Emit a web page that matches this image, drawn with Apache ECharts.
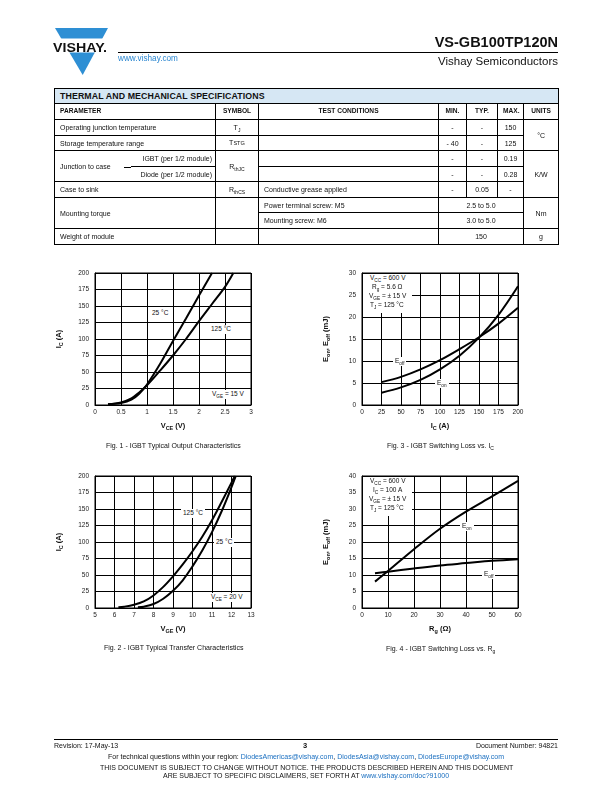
<!DOCTYPE html>
<html><head><meta charset="utf-8">
<script src="https://cdn.jsdelivr.net/npm/echarts@6/dist/echarts.min.js"></script>
<style>
body{margin:0;background:#fff;}
#page{position:relative;width:612px;height:792px;overflow:hidden;font-family:"Liberation Sans",Arial,Helvetica,sans-serif;color:#111;background:#fff;}
#chart{position:absolute;left:0;top:0;width:612px;height:792px;}
.t{position:absolute;white-space:nowrap;line-height:1;z-index:5;color:#111;}
.lbl{background:#fff;padding:1px 2px;}
sub,.sb{font-size:72%;vertical-align:-1.5px;line-height:0;}
#spec{position:absolute;left:54px;top:88px;border-collapse:collapse;table-layout:fixed;width:504px;font-size:7px;z-index:5;}
#spec td{border:1px solid #000;padding:0 5px;line-height:1;white-space:nowrap;overflow:hidden;}
#spec td.c{text-align:center;}
#spec tr.h td{font-weight:bold;font-size:6.6px;text-align:center;}
#spec td.ttl{background:#d6e7f4;font-weight:900;font-size:8.8px;letter-spacing:0.1px;}
a{color:#1a6fc0;}
.box{position:absolute;background:#fff;z-index:4;}
</style></head>
<body><div id="page">
<div id="chart"></div>

<svg class="t" style="left:50px;top:25px" width="66" height="55">
  <polygon points="5,3 58,3 32.7,50" fill="#2e8fd4"/>
  <rect x="0" y="13.5" width="66" height="14" fill="#fff"/>
  <text x="3" y="26.5" font-family="Liberation Sans, Arial" font-weight="bold" font-size="13.5" textLength="54" lengthAdjust="spacingAndGlyphs" fill="#111">VISHAY.</text>
</svg>
<div class="t" style="right:54px;top:35px;font-size:14.5px;font-weight:bold;">VS-GB100TP120N</div>
<div class="t" style="left:118px;top:52px;width:440px;height:1px;background:#000;"></div>
<div class="t" style="left:118px;top:55px;font-size:8.2px;color:#2a86d0;">www.vishay.com</div>
<div class="t" style="right:54px;top:56px;font-size:11.5px;">Vishay Semiconductors</div>

<table id="spec">
<colgroup><col style="width:76px"><col style="width:85px"><col style="width:43px"><col style="width:180px"><col style="width:28px"><col style="width:31px"><col style="width:26px"><col style="width:35px"></colgroup>
<tr style="height:15px"><td colspan="8" class="ttl">THERMAL AND MECHANICAL SPECIFICATIONS</td></tr>
<tr class="h" style="height:16px"><td colspan="2" style="text-align:left">PARAMETER</td><td>SYMBOL</td><td>TEST CONDITIONS</td><td>MIN.</td><td>TYP.</td><td>MAX.</td><td>UNITS</td></tr>
<tr style="height:16px"><td colspan="2">Operating junction temperature</td><td class="c">T<sub>J</sub></td><td></td><td class="c">-</td><td class="c">-</td><td class="c">150</td><td class="c" rowspan="2">°C</td></tr>
<tr style="height:15px"><td colspan="2">Storage temperature range</td><td class="c">T<span style="font-size:80%">STG</span></td><td></td><td class="c">- 40</td><td class="c">-</td><td class="c">125</td></tr>
<tr style="height:16px"><td rowspan="2" style="border-right:none">Junction to case</td><td style="border-left:none;text-align:right;padding-right:3px">IGBT (per 1/2 module)</td><td class="c" rowspan="2">R<sub>thJC</sub></td><td></td><td class="c">-</td><td class="c">-</td><td class="c">0.19</td><td class="c" rowspan="3">K/W</td></tr>
<tr style="height:15px"><td style="border-left:none;text-align:right;padding-right:3px">Diode (per 1/2 module)</td><td></td><td class="c">-</td><td class="c">-</td><td class="c">0.28</td></tr>
<tr style="height:16px"><td colspan="2">Case to sink</td><td class="c">R<sub>thCS</sub></td><td>Conductive grease applied</td><td class="c">-</td><td class="c">0.05</td><td class="c">-</td></tr>
<tr style="height:15px"><td colspan="2" rowspan="2">Mounting torque</td><td rowspan="2"></td><td>Power terminal screw: M5</td><td class="c" colspan="3">2.5 to 5.0</td><td class="c" rowspan="2">Nm</td></tr>
<tr style="height:16px"><td>Mounting screw: M6</td><td class="c" colspan="3">3.0 to 5.0</td></tr>
<tr style="height:16px"><td colspan="2">Weight of module</td><td></td><td></td><td class="c" colspan="3">150</td><td class="c">g</td></tr>
</table>
<div class="t" style="left:124px;top:167px;width:7px;height:1px;background:#000;z-index:6"></div>

<!-- footer -->
<div class="t" style="left:54px;top:739px;width:504px;height:1px;background:#000;"></div>
<div class="t" style="left:54px;top:742px;font-size:7px;">Revision: 17-May-13</div>
<div class="t" id="pgno" style="left:303px;top:742px;font-size:7.5px;font-weight:bold;">3</div>
<div class="t" style="right:54px;top:742px;font-size:7px;">Document Number: 94821</div>
<div class="t ctr" data-y="756" style="font-size:7px;">For technical questions within your region: <a>DiodesAmericas@vishay.com</a>, <a>DiodesAsia@vishay.com</a>, <a>DiodesEurope@vishay.com</a></div>
<div class="t ctr" data-y="767" style="font-size:7px;">THIS DOCUMENT IS SUBJECT TO CHANGE WITHOUT NOTICE. THE PRODUCTS DESCRIBED HEREIN AND THIS DOCUMENT</div>
<div class="t ctr" data-y="775" style="font-size:7px;">ARE SUBJECT TO SPECIFIC DISCLAIMERS, SET FORTH AT <a>www.vishay.com/doc?91000</a></div>
</div>

<script>
// ---- Fig. 1: IGBT typical output characteristics (VGE = 15 V)
const fig1Vce25 = [0.25, 0.5, 0.7, 0.85, 1.0, 1.25, 1.5, 1.75, 2.0, 2.25];
const fig1Ic25 = [1, 3, 8, 17, 31, 62, 97, 131, 166, 200];
const fig1Vce125 = [0.25, 0.5, 0.7, 0.85, 1.0, 1.25, 1.5, 1.75, 2.0, 2.25, 2.5, 2.66];
const fig1Ic125 = [1, 4, 10, 19, 30, 52, 75, 100, 127, 153, 179, 200];
// ---- Fig. 2: IGBT typical transfer characteristics (VCE = 20 V)
const fig2Vge125 = [6.2, 6.5, 7, 7.5, 8, 8.5, 9, 9.5, 10, 10.5, 11, 11.5, 12, 12.17];
const fig2Ic125 = [1, 2, 5, 10, 19, 32, 48, 66, 86, 108, 133, 161, 190, 200];
const fig2Vge25 = [7.2, 7.5, 8, 8.5, 9, 9.5, 10, 10.5, 11, 11.5, 12, 12.22];
const fig2Ic25 = [1, 2, 6, 14, 26, 42, 63, 87, 115, 147, 183, 200];
// ---- Fig. 3: switching loss vs IC
const fig3Ic = [25, 50, 75, 100, 125, 150, 175, 200];
const fig3Eoff = [5.2, 6.4, 8.1, 10.2, 12.7, 15.4, 18.5, 22.1];
const fig3Eon = [2.8, 4.0, 5.7, 8.1, 11.2, 15.3, 20.5, 27.0];
// ---- Fig. 4: switching loss vs Rg
const fig4Rg = [5, 10, 20, 30, 40, 50, 60];
const fig4Eon = [8.0, 11.2, 17.8, 24.0, 29.2, 33.8, 38.5];
const fig4Eoff = [10.5, 11.0, 12.0, 12.9, 13.6, 14.3, 14.8];

const FONT = '"Liberation Sans", Arial, Helvetica, sans-serif';
const pair = (xs, ys) => xs.map((x, i) => [x, ys[i]]);

const grids = [
  {left: 95, top: 273, width: 156, height: 132},
  {left: 362, top: 273, width: 156, height: 132},
  {left: 95, top: 476, width: 156, height: 132},
  {left: 362, top: 476, width: 156, height: 132}
].map(g => Object.assign(g, {show: true, borderColor: '#000', borderWidth: 1, containLabel: false, outerBoundsMode: 'none'}));

const nameStyle = {
  fontFamily: FONT, fontSize: 7.5, fontWeight: 'bold', color: '#111', lineHeight: 11,
  rich: {s: {fontFamily: FONT, fontSize: 5.5, fontWeight: 'bold', color: '#111', lineHeight: 11, verticalAlign: 'bottom'}}
};
function xAx(gi, min, max, interval, name) {
  return {type: 'value', gridIndex: gi, min, max, interval, name, nameLocation: 'middle', nameGap: 15,
    nameMoveOverlap: false, nameTextStyle: nameStyle,
    axisLine: {show: true, lineStyle: {color: '#000', width: 1}}, axisTick: {show: false},
    axisLabel: {fontFamily: FONT, fontSize: 6.5, color: '#222', margin: 4, showMinLabel: true, showMaxLabel: true},
    splitLine: {show: true, lineStyle: {color: '#000', width: 1}}};
}
function yAx(gi, min, max, interval, name) {
  return {type: 'value', gridIndex: gi, min, max, interval, name, nameLocation: 'middle', nameGap: 31, nameRotate: 90,
    nameMoveOverlap: false, nameTextStyle: nameStyle,
    axisLine: {show: true, lineStyle: {color: '#000', width: 1}}, axisTick: {show: false},
    axisLabel: {fontFamily: FONT, fontSize: 6.5, color: '#222', margin: 6, showMinLabel: true, showMaxLabel: true},
    splitLine: {show: true, lineStyle: {color: '#000', width: 1}}};
}
function curve(gi, xs, ys) {
  return {type: 'line', xAxisIndex: gi, yAxisIndex: gi, data: pair(xs, ys), smooth: 0.35, symbol: 'none',
    lineStyle: {color: '#000', width: 2}, silent: true, animation: false, z: 3};
}

const chart = echarts.init(document.getElementById('chart'), null, {renderer: 'canvas'});
chart.setOption({
  animation: false,
  backgroundColor: 'transparent',
  grid: grids,
  xAxis: [
    xAx(0, 0, 3, 0.5, 'V{s|CE} (V)'),
    xAx(1, 0, 200, 25, 'I{s|C} (A)'),
    xAx(2, 5, 13, 1, 'V{s|GE} (V)'),
    xAx(3, 0, 60, 10, 'R{s|g} (Ω)')
  ],
  yAxis: [
    yAx(0, 0, 200, 25, 'I{s|C} (A)'),
    yAx(1, 0, 30, 5, 'E{s|on}, E{s|off} (mJ)'),
    yAx(2, 0, 200, 25, 'I{s|C} (A)'),
    yAx(3, 0, 40, 5, 'E{s|on}, E{s|off} (mJ)')
  ],
  series: [
    curve(0, fig1Vce25, fig1Ic25),
    curve(0, fig1Vce125, fig1Ic125),
    curve(1, fig3Ic, fig3Eoff),
    curve(1, fig3Ic, fig3Eon),
    curve(2, fig2Vge125, fig2Ic125),
    curve(2, fig2Vge25, fig2Ic25),
    curve(3, fig4Rg, fig4Eon),
    curve(3, fig4Rg, fig4Eoff)
  ]
});

// ---- text annotations (curve labels, condition boxes, captions)
const page = document.getElementById('page');
function put(html, x, y, size, cls) {
  const d = document.createElement('div');
  d.className = 't ' + (cls || '');
  d.innerHTML = html;
  d.style.fontSize = size + 'px';
  page.appendChild(d);
  d.style.left = Math.round(x - d.offsetWidth / 2) + 'px';
  d.style.top = Math.round(y - d.offsetHeight / 2) + 'px';
}
function box(x, y, w, h) {
  const d = document.createElement('div');
  d.className = 'box';
  Object.assign(d.style, {left: x + 'px', top: y + 'px', width: w + 'px', height: h + 'px'});
  page.appendChild(d);
}
document.querySelectorAll('.ctr').forEach(d => {
  d.style.left = Math.round(306 - d.offsetWidth / 2) + 'px';
  d.style.top = Math.round(+d.dataset.y - d.offsetHeight / 2) + 'px';
});
// Fig 1
put('25 °C', 160, 313, 6.5, 'lbl');
put('125 °C', 221, 329, 6.5, 'lbl');
put('V<sub>GE</sub> = 15 V', 228, 394, 6.5, 'lbl');
put('Fig. 1 - IGBT Typical Output Characteristics', 173, 445, 7);
// Fig 3
box(363, 274, 49, 39);
put('V<sub>CC</sub> = 600 V', 387, 278.5, 6.5);
put('R<sub>g</sub> = 5.6 Ω', 387, 287, 6.5);
put('V<sub>GE</sub> = ± 15 V', 387, 296, 6.5);
put('T<sub>J</sub> = 125 °C', 387, 305, 6.5);
put('E<sub>off</sub>', 399.5, 361.5, 6.5, 'lbl');
put('E<sub>on</sub>', 441.5, 383.5, 6.5, 'lbl');
put('Fig. 3 -  IGBT Switching Loss vs. I<sub>C</sub>', 440, 445, 7);
// Fig 2
put('125 °C', 193, 513, 6.5, 'lbl');
put('25 °C', 224, 542, 6.5, 'lbl');
put('V<sub>CE</sub> = 20 V', 227, 597, 6.5, 'lbl');
put('Fig. 2 - IGBT Typical Transfer Characteristics', 173, 647, 7);
// Fig 4
box(363, 477, 49, 39);
put('V<sub>CC</sub> = 600 V', 387, 481, 6.5);
put('I<sub>C</sub> = 100 A', 387, 490, 6.5);
put('V<sub>GE</sub> = ± 15 V', 387, 499, 6.5);
put('T<sub>J</sub> = 125 °C', 387, 508.5, 6.5);
put('E<sub>on</sub>', 467, 526, 6.5, 'lbl');
put('E<sub>off</sub>', 488, 574.5, 6.5, 'lbl');
put('Fig. 4 - IGBT Switching Loss vs. R<sub>g</sub>', 440, 648, 7);
</script>
</body></html>
